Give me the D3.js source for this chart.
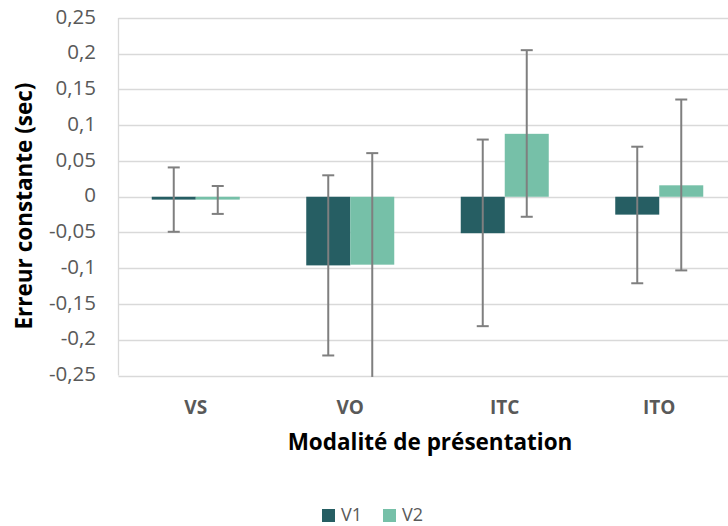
<!DOCTYPE html>
<html><head><meta charset="utf-8">
<script src="https://cdn.jsdelivr.net/npm/d3@7"></script>
<style>body{margin:0;background:#fff}svg{display:block}</style>
</head><body>
<script>
const categories = ["VS", "VO", "ITC", "ITO"];
const seriesNames = ["V1", "V2"];
const v1 = [-0.004, -0.096, -0.051, -0.025];
const v2 = [-0.004, -0.095, 0.088, 0.016];
const v1Low = [-0.049, -0.222, -0.181, -0.121];
const v1High = [0.041, 0.030, 0.080, 0.070];
const v2Low = [-0.024, -0.252, -0.028, -0.103];
const v2High = [0.015, 0.061, 0.205, 0.136];
const yTicks = [0.25, 0.2, 0.15, 0.1, 0.05, 0, -0.05, -0.1, -0.15, -0.2, -0.25];
const colors = ["#265E63", "#76C0A8"];

(function () {
const W = 728, H = 526;
const svg = d3.select("body").append("svg").attr("width", W).attr("height", H);
const font = "'Open Sans', Lato, sans-serif";

const pLeft = 118.5, pRight = 736.5, pTop = 18, pBottom = 375.5;
const x = d3.scaleBand().domain(categories).range([pLeft, pRight]).paddingInner(0).paddingOuter(0);
const y = d3.scaleLinear().domain([-0.25, 0.25]).range([pBottom, pTop]);
const barW = 44;
const xs = d3.scaleBand().domain(seriesNames).range([0, barW * 2]);

svg.append("g").selectAll("line").data(yTicks).join("line")
  .attr("x1", pLeft).attr("x2", pRight)
  .attr("y1", d => Math.round(y(d)) + 0.5).attr("y2", d => Math.round(y(d)) + 0.5)
  .attr("stroke", "#D9D9D9").attr("stroke-width", 1.3);
svg.append("line").attr("x1", pLeft).attr("x2", pLeft).attr("y1", pTop).attr("y2", pBottom)
  .attr("stroke", "#D9D9D9").attr("stroke-width", 1.3);

const fmt = d => (d === 0 ? "0" : String(+d.toFixed(2)).replace(".", ","));
svg.append("g").selectAll("text").data(yTicks).join("text")
  .attr("x", 96).attr("y", d => y(d) + 5.5)
  .attr("text-anchor", "end").attr("font-family", font).attr("font-size", 20.5)
  .attr("fill", "#595959").text(fmt);

const data = [
  {vals: v1, lo: v1Low, hi: v1High, name: "V1"},
  {vals: v2, lo: v2Low, hi: v2High, name: "V2"}
];
data.forEach((s, si) => {
  svg.append("g").selectAll("rect").data(categories).join("rect")
    .attr("x", (c) => x(c) + x.bandwidth() / 2 - barW + xs(s.name))
    .attr("width", barW)
    .attr("y", (c, i) => y(Math.max(0, s.vals[i])))
    .attr("height", (c, i) => Math.abs(y(s.vals[i]) - y(0)))
    .attr("fill", colors[si]);
});
data.forEach((s) => {
  const g = svg.append("g");
  categories.forEach((c, i) => {
    const cx = x(c) + x.bandwidth() / 2 - barW + xs(s.name) + barW / 2;
    const yl = Math.min(y(s.lo[i]), pBottom + 2.5);
    g.append("line").attr("x1", cx).attr("x2", cx)
      .attr("y1", y(s.hi[i])).attr("y2", yl)
      .attr("stroke", "#7F7F7F").attr("stroke-width", 2);
    g.append("line").attr("x1", cx - 6).attr("x2", cx + 6)
      .attr("y1", y(s.hi[i])).attr("y2", y(s.hi[i]))
      .attr("stroke", "#7F7F7F").attr("stroke-width", 2);
    if (s.lo[i] >= -0.25) {
      g.append("line").attr("x1", cx - 6).attr("x2", cx + 6)
        .attr("y1", y(s.lo[i])).attr("y2", y(s.lo[i]))
        .attr("stroke", "#7F7F7F").attr("stroke-width", 2);
    }
  });
});

svg.append("g").selectAll("text").data(categories).join("text")
  .attr("x", c => x(c) + x.bandwidth() / 2).attr("y", 413.5)
  .attr("text-anchor", "middle").attr("font-family", font).attr("font-size", 19)
  .attr("font-weight", "bold").attr("fill", "#595959").text(d => d);

svg.append("text").attr("x", 430).attr("y", 449.5).attr("text-anchor", "middle")
  .attr("font-family", font).attr("font-size", 22.5).attr("font-weight", "bold")
  .attr("fill", "#000").text("Modalité de présentation");
svg.append("text").attr("transform", "translate(32,206) rotate(-90)")
  .attr("text-anchor", "middle").attr("font-family", font).attr("font-size", 22.5)
  .attr("font-weight", "bold").attr("fill", "#000").text("Erreur constante (sec)");

const leg = svg.append("g");
const legX = [322, 383];
seriesNames.forEach((n, i) => {
  leg.append("rect").attr("x", legX[i]).attr("y", 509).attr("width", 13).attr("height", 13).attr("fill", colors[i]);
  leg.append("text").attr("x", legX[i] + 19).attr("y", 521).attr("font-family", font)
    .attr("font-size", 18).attr("fill", "#595959").text(n);
});
})();
</script>
</body></html>
